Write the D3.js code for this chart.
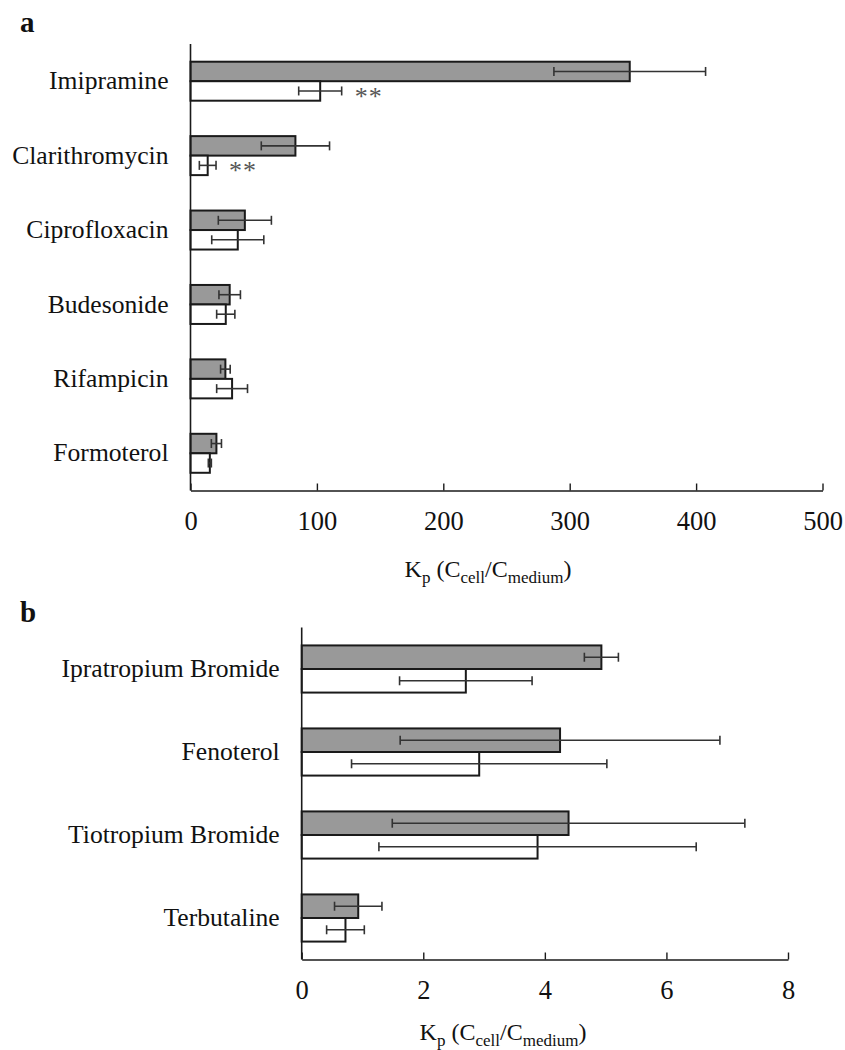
<!DOCTYPE html>
<html>
<head>
<meta charset="utf-8">
<script src="https://cdn.jsdelivr.net/npm/d3@7"></script>
<style>
  html, body { margin: 0; padding: 0; background: #fff; }
  svg { display: block; font-family: "Liberation Serif", "Times New Roman", serif; }
</style>
</head>
<body>
<svg id="chart" width="845" height="1050"></svg>
<script>
// ---- Panel a data ----
const catsA = ["Imipramine", "Clarithromycin", "Ciprofloxacin", "Budesonide", "Rifampicin", "Formoterol"];
const grayA = [347.5, 83, 43, 31, 27.6, 20.5];
const graySdA = [60, 27, 21, 8.5, 3.8, 4];
const whiteA = [102.6, 13.6, 37.4, 27.9, 32.9, 15.3];
const whiteSdA = [17, 6.6, 20.6, 7.2, 12.2, 1.2];
const sigA = ["**", "**", "", "", "", ""];
const ticksA = [0, 100, 200, 300, 400, 500];

// ---- Panel b data ----
const catsB = ["Ipratropium Bromide", "Fenoterol", "Tiotropium Bromide", "Terbutaline"];
const grayB = [4.93, 4.25, 4.39, 0.93];
const graySdB = [0.28, 2.63, 2.9, 0.39];
const whiteB = [2.70, 2.92, 3.88, 0.72];
const whiteSdB = [1.09, 2.1, 2.61, 0.31];
const sigB = ["", "", "", ""];
const ticksB = [0, 2, 4, 6, 8];

const svg = d3.select("#chart");
const INK = "#1a1a1a";

function panel(cfg) {
  const g = svg.append("g");
  const x = d3.scaleLinear().domain(cfg.domain).range(cfg.xRange);
  const y = d3.scaleBand().domain(cfg.cats).range(cfg.yRange);
  const step = y.step();
  const bh = step * cfg.barFrac;

  const rows = cfg.cats.map((c, i) => ({
    c, gray: cfg.gray[i], gsd: cfg.graySd[i], white: cfg.white[i], wsd: cfg.whiteSd[i], sig: cfg.sig[i]
  }));

  // x axis
  const ax = g.append("g")
    .attr("transform", `translate(0,${cfg.yRange[1]})`)
    .call(d3.axisBottom(x).tickValues(cfg.ticks).tickSizeInner(-7).tickSizeOuter(0).tickPadding(21));
  ax.select(".domain").attr("stroke", INK).attr("stroke-width", 1.6);
  ax.selectAll(".tick line").attr("stroke", INK).attr("stroke-width", 1.4);
  ax.selectAll(".tick text").attr("fill", "#111").attr("font-size", 26.5)
    .attr("font-family", "Liberation Serif, Times New Roman, serif");

  // bars
  const bars = g.append("g");
  rows.forEach(r => {
    const cy = y(r.c) + y.bandwidth() / 2;
    bars.append("rect")
      .attr("x", x(0)).attr("y", cy - bh)
      .attr("width", x(r.gray) - x(0)).attr("height", bh)
      .attr("fill", "#999999").attr("stroke", INK).attr("stroke-width", 2);
    bars.append("rect")
      .attr("x", x(0)).attr("y", cy)
      .attr("width", x(r.white) - x(0)).attr("height", bh)
      .attr("fill", "#ffffff").attr("stroke", INK).attr("stroke-width", 2);
  });

  // error bars
  const eb = g.append("g").attr("stroke", "#333").attr("stroke-width", 1.6);
  function err(mean, sd, cy) {
    const lo = x(mean - sd), hi = x(mean + sd);
    eb.append("line").attr("x1", lo).attr("x2", hi).attr("y1", cy).attr("y2", cy);
    eb.append("line").attr("x1", lo).attr("x2", lo).attr("y1", cy - 4.5).attr("y2", cy + 4.5);
    eb.append("line").attr("x1", hi).attr("x2", hi).attr("y1", cy - 4.5).attr("y2", cy + 4.5);
  }
  rows.forEach(r => {
    const cy = y(r.c) + y.bandwidth() / 2;
    err(r.gray, r.gsd, cy - bh / 2);
    err(r.white, r.wsd, cy + bh / 2);
    if (r.sig) {
      g.append("text")
        .attr("x", x(r.white + r.wsd) + 13)
        .attr("y", cy + bh / 2 + 14)
        .attr("font-size", 26).attr("fill", "#555")
        .attr("letter-spacing", 1)
        .text(r.sig);
    }
  });

  // y axis line
  g.append("line")
    .attr("x1", x(0)).attr("x2", x(0))
    .attr("y1", cfg.yRange[0]).attr("y2", cfg.yRange[1])
    .attr("stroke", INK).attr("stroke-width", 1.6);

  // category labels
  g.append("g").selectAll("text").data(rows).join("text")
    .attr("x", x(0) - 22)
    .attr("y", d => y(d.c) + y.bandwidth() / 2)
    .attr("dy", "0.32em")
    .attr("text-anchor", "end")
    .attr("font-size", 25.6).attr("fill", "#111")
    .text(d => d.c);

  // x-axis title
  const t = g.append("text")
    .attr("x", cfg.titleX).attr("y", cfg.titleY)
    .attr("text-anchor", "middle").attr("font-size", 24).attr("fill", "#111");
  t.append("tspan").text("K");
  t.append("tspan").attr("font-size", 17).attr("dy", 6).text("p");
  t.append("tspan").attr("dy", -6).text("\u00a0(C");
  t.append("tspan").attr("font-size", 17).attr("dy", 6).text("cell");
  t.append("tspan").attr("dy", -6).text("/C");
  t.append("tspan").attr("font-size", 17).attr("dy", 6).text("medium");
  t.append("tspan").attr("dy", -6).text(")");

  // panel letter
  g.append("text")
    .attr("x", 20).attr("y", cfg.letterY)
    .attr("font-size", 29).attr("font-weight", "bold").attr("fill", "#111")
    .text(cfg.letter);
}

panel({
  cats: catsA, gray: grayA, graySd: graySdA, white: whiteA, whiteSd: whiteSdA, sig: sigA,
  ticks: ticksA, domain: [0, 500], xRange: [190.5, 822.5], yRange: [44, 490.5],
  barFrac: 0.262, titleX: 488, titleY: 577, letter: "a", letterY: 32
});

panel({
  cats: catsB, gray: grayB, graySd: graySdB, white: whiteB, whiteSd: whiteSdB, sig: sigB,
  ticks: ticksB, domain: [0, 8], xRange: [301.7, 788], yRange: [627.5, 959.5],
  barFrac: 0.284, titleX: 503, titleY: 1040, letter: "b", letterY: 622
});
</script>
</body>
</html>
